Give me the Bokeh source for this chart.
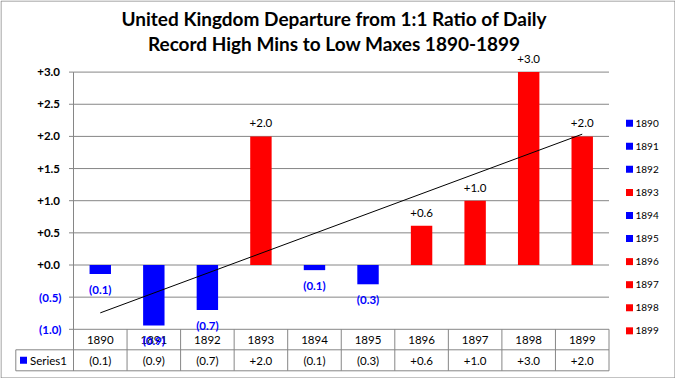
from bokeh.plotting import figure
from bokeh.models import Range1d, ColumnDataSource
from bokeh.embed import file_html
from bokeh.resources import INLINE
from bokeh.core.properties import value
import numpy as np

# ---------------- data ----------------
years = ["1890", "1891", "1892", "1893", "1894", "1895", "1896", "1897", "1898", "1899"]
departures = [-0.14, -0.94, -0.70, 2.0, -0.08, -0.30, 0.61, 1.0, 3.0, 2.0]
y_ticks = [-1.0, -0.5, 0.0, 0.5, 1.0, 1.5, 2.0, 2.5, 3.0]
series_name = "Series1"
title_lines = ["United Kingdom Departure from 1:1 Ratio of Daily",
               "Record High Mins to Low Maxes 1890-1899"]

BLUE = "#0000FF"
RED = "#FF0000"
GRID = "#868686"
FONT = "Lato"

def fmt(v):
    return "(%.1f)" % abs(v) if v < 0 else "+%.1f" % v

# ---------------- layout (pixels) ----------------
W, H = 675, 378
AX_LEFT, AX_RIGHT = 73.0, 608.5
N = len(years)
CAT_W = (AX_RIGHT - AX_LEFT) / N
Y0_PX, UNIT = 264.5, 64.3
TABLE_MID_PX, TABLE_BOTTOM_PX, TABLE_LEFT_PX = 349.3, 370.3, 15.3

def px_x(px):
    return (px - AX_LEFT) / CAT_W - 0.5

def px_y(py):
    return (Y0_PX - py) / UNIT

p = figure(width=W, height=H,
           x_range=Range1d(px_x(0), px_x(W)), y_range=Range1d(px_y(H), px_y(0)),
           x_axis_type=None, y_axis_type=None, toolbar_location=None, tools="",
           output_backend="svg", min_border=0)
p.outline_line_color = None
p.background_fill_color = "white"
p.border_fill_color = "white"

idx = list(range(N))
x_lo, x_hi = -0.5, N - 0.5

# chart border
p.quad(left=[px_x(0.5)], right=[px_x(W - 0.5)], bottom=[px_y(H - 0.5)], top=[px_y(0.5)],
       fill_color=None, line_color=GRID, line_width=1)

# grid lines
p.segment(x0=[x_lo] * len(y_ticks), x1=[x_hi] * len(y_ticks), y0=y_ticks, y1=y_ticks,
          line_color=GRID, line_width=1)
# tick marks
p.segment(x0=[px_x(AX_LEFT - 4.5)] * len(y_ticks), x1=[x_lo] * len(y_ticks), y0=y_ticks, y1=y_ticks,
          line_color=GRID, line_width=1)
# axis line continuing through table
p.segment(x0=[x_lo], x1=[x_lo], y0=[max(y_ticks)], y1=[px_y(TABLE_BOTTOM_PX)],
          line_color=GRID, line_width=1)

# tick labels
tick_src = ColumnDataSource(dict(
    y=y_ticks,
    x=[px_x(59.5) if t >= 0 else px_x(61) for t in y_ticks],
    t=[fmt(t) for t in y_ticks],
    c=["black" if t >= 0 else BLUE for t in y_ticks]))
p.text(x="x", y="y", text="t", text_color="c", source=tick_src,
       text_align="right", text_baseline="middle",
       text_font=value(FONT), text_font_size="11.5px", text_font_style="bold")

# bars
colors = [BLUE if v < 0 else RED for v in departures]
p.vbar(x=idx, top=departures, bottom=0, width=0.4, fill_color=colors, line_color=None)

# trend line (least squares fit of the series)
slope, icpt = np.polyfit(idx, departures, 1)
p.line(x=[0, N - 1], y=[icpt, icpt + slope * (N - 1)], line_color="black", line_width=1)

# table
p.segment(x0=[px_x(TABLE_LEFT_PX)] * 2, x1=[x_hi] * 2,
          y0=[px_y(TABLE_MID_PX), px_y(TABLE_BOTTOM_PX)], y1=[px_y(TABLE_MID_PX), px_y(TABLE_BOTTOM_PX)],
          line_color=GRID, line_width=1)
bounds = [k - 0.5 for k in range(N + 1)]
p.segment(x0=bounds, x1=bounds, y0=[min(y_ticks)] * len(bounds), y1=[px_y(TABLE_BOTTOM_PX)] * len(bounds),
          line_color=GRID, line_width=1)
p.segment(x0=[px_x(TABLE_LEFT_PX)], x1=[px_x(TABLE_LEFT_PX)],
          y0=[px_y(TABLE_MID_PX)], y1=[px_y(TABLE_BOTTOM_PX)], line_color=GRID, line_width=1)

p.text(x=idx, y=[px_y(339.3)] * N, text=years, text_align="center", text_baseline="middle",
       text_font=value(FONT), text_font_size="11.5px", text_color="black")
p.text(x=idx, y=[px_y(360.2)] * N, text=[fmt(v) for v in departures], text_align="center",
       text_baseline="middle", text_font=value(FONT), text_font_size="11.5px", text_color="black")
p.scatter(x=[px_x(23)], y=[px_y(359.8)], marker="square", size=7, fill_color=BLUE, line_color=None)
p.text(x=[px_x(29.5)], y=[px_y(360.2)], text=[series_name], text_align="left", text_baseline="middle",
       text_font=value(FONT), text_font_size="11.5px", text_color="black")

# data labels
lab_src = ColumnDataSource(dict(
    x=idx,
    y=[v - 15.5 / UNIT if v < 0 else v + 13 / UNIT for v in departures],
    t=[fmt(v) for v in departures],
    c=[BLUE if v < 0 else "black" for v in departures],
    s=["bold" if v < 0 else "normal" for v in departures]))
p.text(x="x", y="y", text="t", text_color="c", text_font_style="s", source=lab_src,
       text_align="center", text_baseline="middle", text_font=value(FONT), text_font_size="11.5px")

# legend on the right
leg_y = [px_y(122.7 + 23.07 * k) for k in range(N)]
p.scatter(x=[px_x(629)] * N, y=leg_y, marker="square", size=7, fill_color=colors, line_color=None)
p.text(x=[px_x(635)] * N, y=leg_y, text=years, text_align="left", text_baseline="middle",
       text_font=value(FONT), text_font_size="10px", text_color="black")

# title
p.text(x=[px_x(333.7)] * 2, y=[px_y(17.5), px_y(42.5)], text=title_lines, text_align="center",
       text_baseline="middle", text_font=value(FONT), text_font_size="19px",
       text_font_style="bold", text_color="black")

open("out.html", "w").write(file_html(p, INLINE))
